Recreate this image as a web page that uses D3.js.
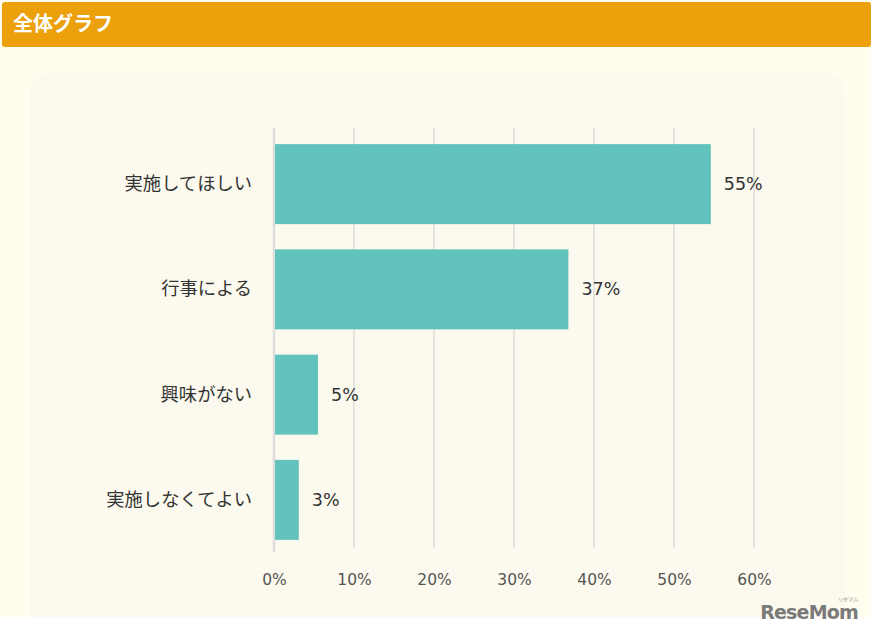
<!DOCTYPE html>
<html><head><meta charset="utf-8">
<script src="https://cdn.jsdelivr.net/npm/d3@7"></script>
<style>
html,body{margin:0;padding:0;background:#fff;}
svg{display:block;font-family:"Noto Sans CJK JP","Noto Sans",sans-serif;}
</style></head>
<body>
<script>
const categories = ["実施してほしい","行事による","興味がない","実施しなくてよい"];
const values = [54.6, 36.8, 5.5, 3.1];
const valueLabels = ["55%","37%","5%","3%"];
const tickValues = [0,10,20,30,40,50,60];
const title = "全体グラフ";

const W = 871, H = 635;
const svg = d3.select("body").append("svg").attr("width", W).attr("height", H);

svg.append("rect").attr("x",0).attr("y",0).attr("width",W).attr("height",617).attr("fill","#FFFDEE");
svg.append("rect").attr("x",30).attr("y",72).attr("width",815).attr("height",560).attr("rx",22).attr("fill","#FCFAEE");
svg.append("rect").attr("x",0).attr("y",617).attr("width",W).attr("height",H-617).attr("fill","#fff");
svg.append("rect").attr("x",2).attr("y",2).attr("width",W-2).attr("height",45).attr("rx",3).attr("fill","#EBA00C");
svg.append("text").attr("x",13).attr("y",31).attr("fill","#fff").attr("font-size",20).attr("font-weight","bold").text(title);

const x = d3.scaleLinear().domain([0,60]).range([274,754]);
const y = d3.scaleBand().domain(categories).range([131.5,552.5]).paddingInner(0.24).paddingOuter(0.12);

const g = svg.append("g");
g.selectAll("line.grid").data(tickValues.slice(1)).join("line")
  .attr("x1",d=>x(d)).attr("x2",d=>x(d)).attr("y1",128).attr("y2",548)
  .attr("stroke","#ddd").attr("stroke-width",1.5);
g.append("line").attr("x1",x(0)).attr("x2",x(0)).attr("y1",128).attr("y2",552)
  .attr("stroke","#ddd").attr("stroke-width",2.5);

g.selectAll("rect.bar").data(values).join("rect")
  .attr("x",x(0)+1).attr("y",(d,i)=>y(categories[i]))
  .attr("width",d=>x(d)-x(0)-1).attr("height",y.bandwidth())
  .attr("fill","#62C2BC");

g.selectAll("text.val").data(values).join("text")
  .attr("x",d=>x(d)+13).attr("y",(d,i)=>y(categories[i])+y.bandwidth()/2+6)
  .attr("font-size",17.5).attr("fill","#333").attr("font-family","Verdana,'DejaVu Sans',sans-serif")
  .text((d,i)=>valueLabels[i]);

g.selectAll("text.cat").data(categories).join("text")
  .attr("x",252).attr("y",d=>y(d)+y.bandwidth()/2+6)
  .attr("text-anchor","end").attr("font-size",18.3).attr("fill","#333").text(d=>d);

const axis = d3.axisBottom(x).tickValues(tickValues).tickFormat(d=>d+"%").tickSize(0).tickPadding(0);
const ax = svg.append("g").attr("transform","translate(0,571)").call(axis);
ax.select(".domain").remove();
ax.selectAll("text").attr("font-size",15.5).attr("fill","#555").attr("font-family","Verdana,'DejaVu Sans',sans-serif").attr("dy","0.9em");

const wm = svg.append("g");
wm.append("text").attr("x",858).attr("y",619).attr("text-anchor","end").attr("font-size",19).attr("font-weight","bold")
  .attr("fill","#7a7a7a").attr("font-family","'DejaVu Sans',sans-serif").attr("letter-spacing",-0.8).text("ReseMom");
wm.append("text").attr("x",848).attr("y",601).attr("text-anchor","middle").attr("font-size",5).attr("fill","#888").text("リセマム");
</script>
</body></html>
